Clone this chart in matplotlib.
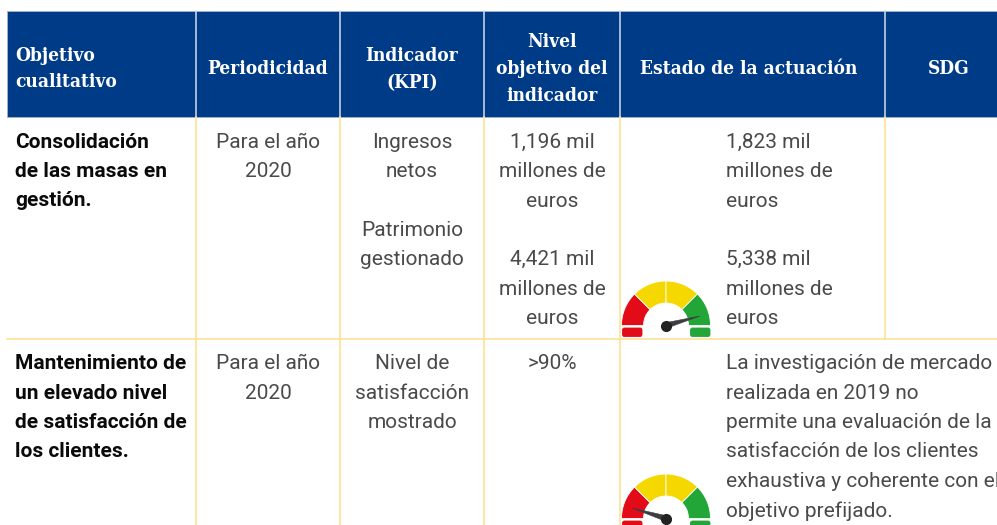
import matplotlib
matplotlib.use("Agg")
import matplotlib.pyplot as plt
from matplotlib.patches import Wedge, Rectangle, FancyBboxPatch, Polygon

NAVY = "#003B87"
YELLOW_LINE = "#FDE08C"
TEXT = "#4a4a4a"

# column edges and row edges, in pixels
colEdges = [7, 196, 340, 484, 620, 885, 1000]
headerTop, headerBottom, rowLine = 11, 117, 339

headers = [
    (15, "left", ["Objetivo", "cualitativo"], [61, 87]),
    (268, "center", ["Periodicidad"], [74]),
    (412, "center", ["Indicador", "(KPI)"], [61, 88]),
    (552, "center", ["Nivel", "objetivo del", "indicador"], [47, 74, 101]),
    (749, "center", ["Estado de la actuación"], [74]),
    (949, "center", ["SDG"], [74]),
]

objectives = [
    (["Consolidación", "de las masas en", "gestión."], [148, 177, 206]),
    (["Mantenimiento de", "un elevado nivel", "de satisfacción de", "los clientes."], [369, 399, 428, 457]),
]

cells = [
    (268, "center", ["Para el año", "2020"], [148, 177]),
    (412, "center", ["Ingresos", "netos", "Patrimonio", "gestionado"], [148, 177, 236, 265]),
    (552, "center", ["1,196 mil", "millones de", "euros", "4,421 mil", "millones de", "euros"], [148, 177, 207, 265, 295, 324]),
    (726, "left", ["1,823 mil", "millones de", "euros", "5,338 mil", "millones de", "euros"], [148, 177, 207, 265, 295, 324]),
    (268, "center", ["Para el año", "2020"], [369, 399]),
    (412, "center", ["Nivel de", "satisfacción", "mostrado"], [369, 399, 428]),
    (552, "center", [">90%"], [369]),
    (726, "left", ["La investigación de mercado", "realizada en 2019 no", "permite una evaluación de la",
                   "satisfacción de los clientes", "exhaustiva y coherente con el", "objetivo prefijado."],
     [369, 399, 428, 457, 487, 517]),
]

# gauge: centre y and needle tip
gaugeCentres = [(666, 325.5), (666, 518.5)]
needleTips = [(700, 316), (632, 508)]
gaugeSegments = [(135, 180, "#E30B17"), (90, 135, "#F5D800"), (45, 90, "#F5D800"), (0, 45, "#22A638")]


def drawGauge(ax, centre, tip):
    cx, cy = centre
    # y axis is inverted, so angles are mirrored
    for a0, a1, color in gaugeSegments:
        ax.add_patch(Wedge((cx, cy), 44.5, 360 - a1, 360 - a0, width=22, facecolor=color,
                           edgecolor="white", linewidth=0.6, zorder=3))
    for x, color in [(622, "#E30B17"), (690, "#22A638")]:
        ax.add_patch(FancyBboxPatch((x + 0.5, cy + 2.5), 19.5, 8.5, boxstyle="round,pad=0,rounding_size=2",
                                    facecolor=color, edgecolor=color, linewidth=0.6, zorder=3))
    # tapered needle
    dx, dy = tip[0] - cx, tip[1] - cy
    length = (dx ** 2 + dy ** 2) ** 0.5
    nx, ny = -dy / length * 2.8, dx / length * 2.8
    ax.add_patch(Polygon([(cx + nx, cy + ny), tip, (cx - nx, cy - ny)], facecolor="#3c3d40",
                         edgecolor="#3c3d40", linewidth=0.4, zorder=4))
    ax.plot([cx], [cy], "o", color="#222222", markersize=7, zorder=5)


fig = plt.figure(figsize=(9.97, 5.25), dpi=100)
ax = fig.add_axes([0, 0, 1, 1])
ax.set_xlim(0, 997)
ax.set_ylim(525, 0)
ax.axis("off")

ax.add_patch(Rectangle((colEdges[0], headerTop), 997 - colEdges[0], headerBottom - headerTop,
                       facecolor=NAVY, edgecolor="#9FB5D3", linewidth=0.6))
for x in colEdges[1:-1]:
    ax.plot([x, x], [headerTop, headerBottom], color="#D5DEEC", linewidth=1.1)
    # the SDG column is merged in the second row
    bottom = rowLine if x == 885 else 525
    ax.plot([x, x], [headerBottom, bottom], color=YELLOW_LINE, linewidth=1.1)
ax.plot([7, 997], [rowLine, rowLine], color=YELLOW_LINE, linewidth=1.1, zorder=4)

for x, ha, lines, ys in headers:
    for line, y in zip(lines, ys):
        ax.text(x, y, line, color="white", ha=ha, va="baseline", family="DejaVu Serif",
                stretch="condensed", weight="bold", fontsize=13.7)

for lines, ys in objectives:
    for line, y in zip(lines, ys):
        ax.text(15, y, line, color="#0a0a0a", ha="left", va="baseline", family="Roboto",
                weight="bold", fontsize=15)

for x, ha, lines, ys in cells:
    for line, y in zip(lines, ys):
        ax.text(x, y, line, color=TEXT, ha=ha, va="baseline", family="Roboto",
                weight="normal", fontsize=15)

for centre, tip in zip(gaugeCentres, needleTips):
    drawGauge(ax, centre, tip)

fig.savefig("out.png", dpi=100)
